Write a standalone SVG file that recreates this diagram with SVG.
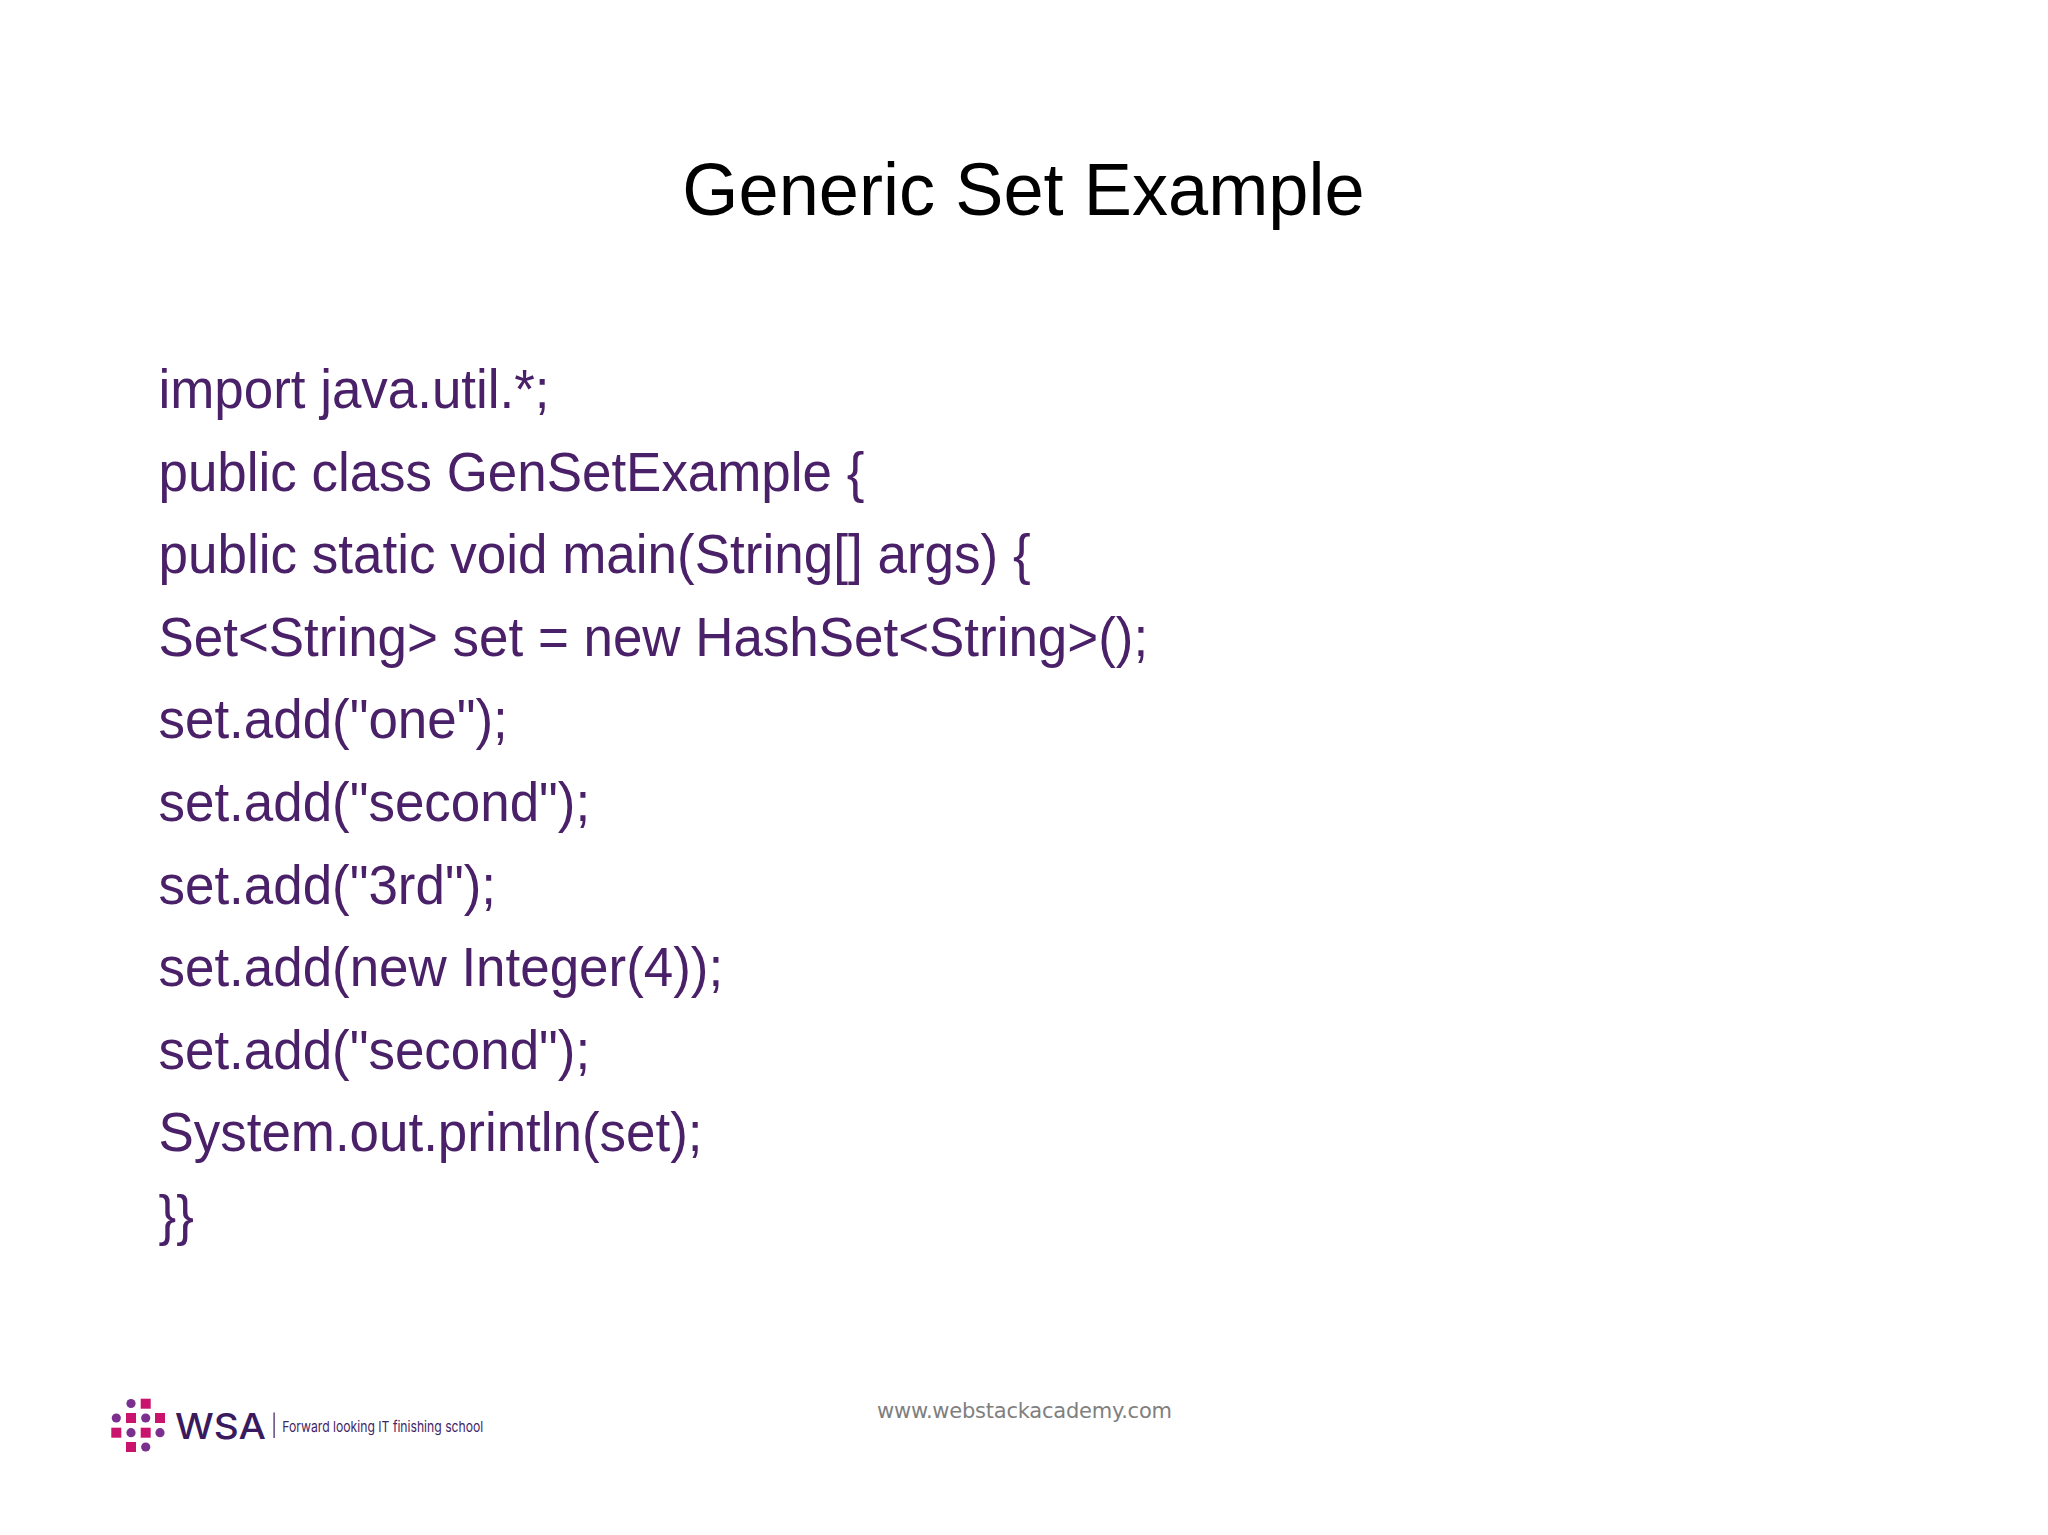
<svg xmlns="http://www.w3.org/2000/svg" width="2048" height="1535" viewBox="0 0 2048 1535">
<style>
.c{font-family:"Liberation Sans",Arial,sans-serif;font-size:56px;fill:#4a2168}
.t{font-family:"Liberation Sans",Arial,sans-serif;font-size:74px;fill:#000}
.f{font-family:"DejaVu Sans",sans-serif;font-size:21px;fill:#7f7f7f}
.m{fill:#c9136c}.p{fill:#7b2f8e}
.w{font-family:"Inter","Liberation Sans",sans-serif;font-size:36px;font-weight:500;fill:#3a1a5e}
.s{font-family:"Inter","Liberation Sans",sans-serif;font-size:15px;fill:#3f2566}
</style>
<rect width="2048" height="1535" fill="#fff"/>
<g id="title"><text class="t" transform="translate(1023.5 214.5) scale(.976 1)" text-anchor="middle">Generic Set Example</text></g>
<g id="code">
<text class="c" transform="translate(158.5 408) scale(.945 1)">import java.util.*;</text>
<text class="c" transform="translate(158.5 491) scale(.945 1)">public class GenSetExample {</text>
<text class="c" transform="translate(158.5 573) scale(.947 1)">public static void main(String[] args) {</text>
<text class="c" transform="translate(158.5 656) scale(.945 1)">Set&lt;String&gt; set = new HashSet&lt;String&gt;();</text>
<text class="c" transform="translate(158.5 738) scale(.945 1)">set.add("one");</text>
<text class="c" transform="translate(158.5 821) scale(.945 1)">set.add("second");</text>
<text class="c" transform="translate(158.5 904) scale(.945 1)">set.add("3rd");</text>
<text class="c" transform="translate(158.5 986) scale(.945 1)">set.add(new Integer(4));</text>
<text class="c" transform="translate(158.5 1069) scale(.945 1)">set.add("second");</text>
<text class="c" transform="translate(158.5 1151) scale(.945 1)">System.out.println(set);</text>
<text class="c" transform="translate(158.5 1234) scale(.945 1)">}}</text>
</g>
<g id="footer"><text class="f" x="877" y="1418" textLength="295" lengthAdjust="spacing">www.webstackacademy.com</text></g>
<g id="logo">
<circle class="p" cx="131" cy="1403.5" r="4.6"/><rect class="m" x="140.7" y="1398.7" width="10" height="10"/>
<circle class="p" cx="116.3" cy="1418" r="4.6"/><rect class="m" x="126" y="1413" width="10" height="10"/><circle class="p" cx="145.7" cy="1418" r="4.6"/><rect class="m" x="155" y="1413" width="10" height="10"/>
<rect class="m" x="111.3" y="1427.7" width="10" height="10"/><circle class="p" cx="131" cy="1432.7" r="4.6"/><rect class="m" x="140.7" y="1427.7" width="10" height="10"/><circle class="p" cx="160" cy="1432.7" r="4.6"/>
<rect class="m" x="126" y="1442" width="10" height="10"/><circle class="p" cx="145.7" cy="1447" r="4.6"/>
<text class="w" x="175" y="1438.5" textLength="91" lengthAdjust="spacingAndGlyphs">WSA</text>
<rect x="273.5" y="1412.5" width="1.2" height="25.5" fill="#3a1a5e"/>
<text class="s" x="282.3" y="1431.5" textLength="201" lengthAdjust="spacingAndGlyphs">Forward looking IT finishing school</text>
</g>
</svg>
